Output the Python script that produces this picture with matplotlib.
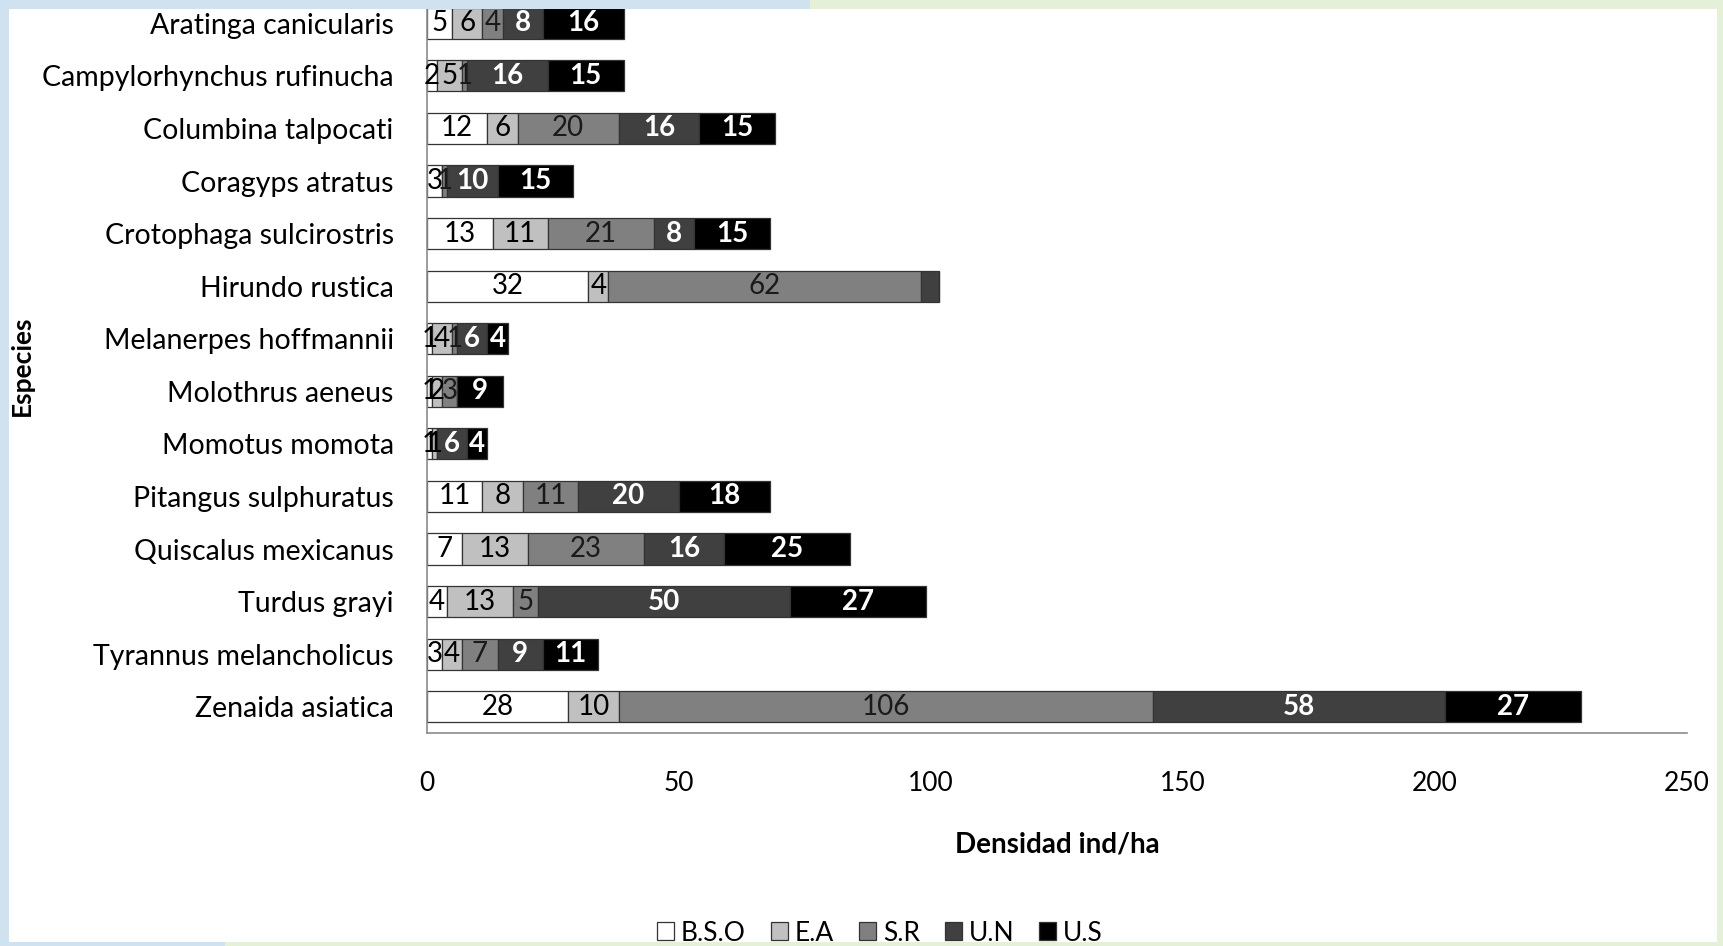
import matplotlib
matplotlib.use("Agg")
import matplotlib.pyplot as plt
from matplotlib.patches import Rectangle, Patch
import numpy as np

plt.rcParams['font.family'] = ['Lato', 'DejaVu Sans']

especies = ["Aratinga canicularis", "Campylorhynchus rufinucha", "Columbina talpocati",
            "Coragyps atratus", "Crotophaga sulcirostris", "Hirundo rustica",
            "Melanerpes hoffmannii", "Molothrus aeneus", "Momotus momota",
            "Pitangus sulphuratus", "Quiscalus mexicanus", "Turdus grayi",
            "Tyrannus melancholicus", "Zenaida asiatica"]

bso = [5, 2, 12, 3, 13, 32, 1, 1, 1, 11, 7, 4, 3, 28]
ea = [6, 5, 6, 0, 11, 4, 4, 2, 1, 8, 13, 13, 4, 10]
sr = [4, 1, 20, 1, 21, 62, 1, 3, 0, 11, 23, 5, 7, 106]
un = [8, 16, 16, 10, 8, 3.5, 6, 0, 6, 20, 16, 50, 9, 58]
us = [16, 15, 15, 15, 15, 0, 4, 9, 4, 18, 25, 27, 11, 27]

series = ["B.S.O", "E.A", "S.R", "U.N", "U.S"]
colores = ["#ffffff", "#c0c0c0", "#808080", "#404040", "#000000"]
texto = ["#000000", "#000000", "#1a1a1a", "#ffffff", "#ffffff"]
peso = ["normal", "normal", "normal", "bold", "bold"]

W, H = 1723, 946
fig = plt.figure(figsize=(W / 100, H / 100), dpi=100, facecolor="white")
ax = fig.add_axes([427 / W, (H - 733) / H, 1260 / W, 736 / H])

y = np.arange(len(especies))
izq = np.zeros(len(especies))
for vals, nombre, c, tc, fw in zip([bso, ea, sr, un, us], series, colores, texto, peso):
    vals = np.array(vals, dtype=float)
    ax.barh(y, vals, left=izq, height=0.59, color=c, edgecolor="#333333",
            linewidth=0.9, label=nombre, zorder=2)
    for yi, (l, v) in enumerate(zip(izq, vals)):
        # the small U.N piece of Hirundo carries no label
        if v > 0 and float(v).is_integer():
            ax.text(l + v / 2, yi, f"{int(v)}", ha="center", va="center",
                    fontsize=20, color=tc, fontweight=fw, zorder=3)
    izq += vals

ax.set_ylim(len(especies) - 0.5, -0.5)
ax.set_xlim(0, 250)
ax.set_xticks([0, 50, 100, 150, 200, 250])
ax.set_yticks(y)
ax.set_yticklabels(especies)
ax.tick_params(axis="y", length=0, pad=24, labelsize=20.5)
ax.tick_params(axis="x", length=0, pad=27, labelsize=19)
for s in ["top", "right"]:
    ax.spines[s].set_visible(False)
for s in ["left", "bottom"]:
    ax.spines[s].set_color("#8c8c8c")
    ax.spines[s].set_linewidth(1.2)

ax.set_xlabel("Densidad ind/ha", fontsize=20, fontweight="bold")
ax.xaxis.set_label_coords(0.5, -111 / 736)
ax.xaxis.label.set_va("center")
fig.text(22 / W, (H - 366) / H, "Especies", rotation=90, ha="center", va="center",
         fontsize=19, fontweight="bold")

handles = [Patch(facecolor=c, edgecolor="#333333", linewidth=0.9) for c in colores]
fig.legend(handles, series, loc="center", bbox_to_anchor=(880 / W, (H - 933) / H),
           ncol=5, frameon=False, fontsize=19, handlelength=0.65, handleheight=0.65,
           handletextpad=0.25, columnspacing=0.95)

# light frame around the chart area
azul, verde = "#d0e1f0", "#e5f0d9"
marco = [(0, 0, 9, H, azul), (0, H - 9, 810, 9, azul), (810, H - 9, W - 810, 9, verde),
         (W - 6, 0, 6, H, verde), (0, 0, 225, 4, azul), (225, 0, W - 225, 4, verde)]
for x0, y0, w, h, c in marco:
    fig.patches.append(Rectangle((x0, y0), w, h, transform=None, facecolor=c,
                                 edgecolor="none", zorder=10))

fig.savefig("out.png", dpi=100, facecolor="white")
